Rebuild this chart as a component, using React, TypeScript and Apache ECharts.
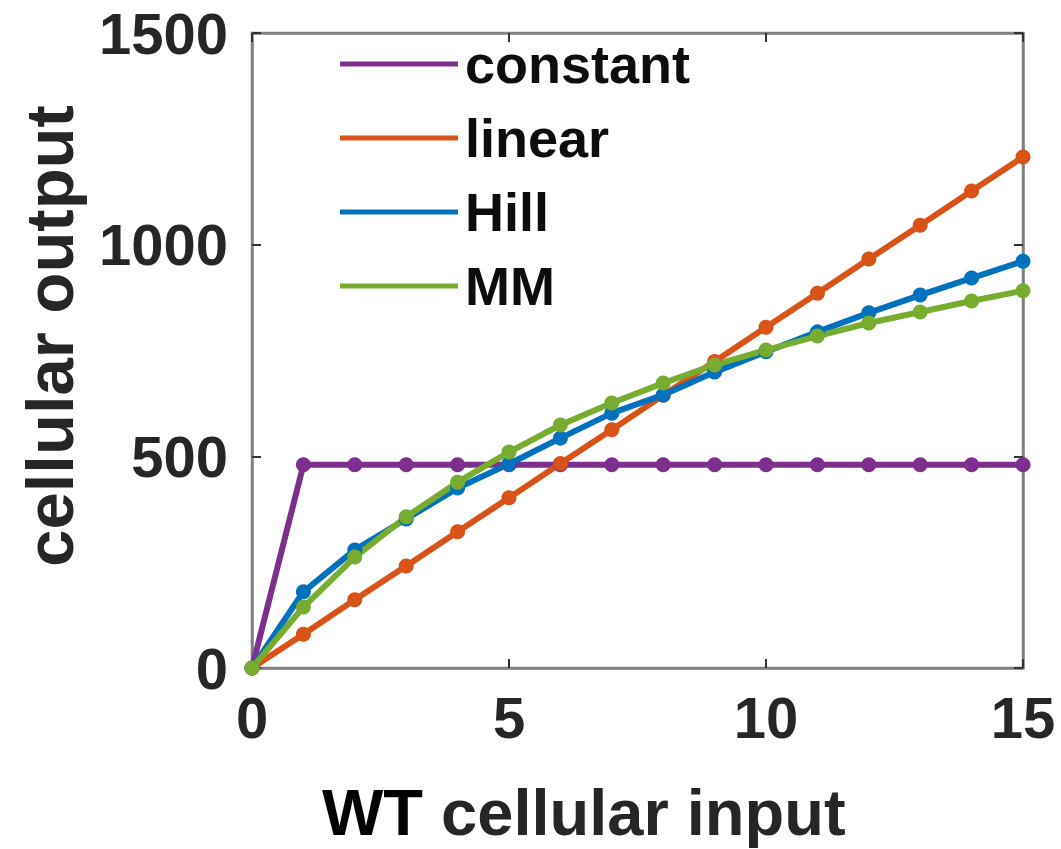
import React, { useEffect, useRef } from "react";
import * as echarts from "echarts";

const xValues = [0, 1, 2, 3, 4, 5, 6, 7, 8, 9, 10, 11, 12, 13, 14, 15];
const constantValues = [0, 480, 480, 480, 480, 480, 480, 480, 480, 480, 480, 480, 480, 480, 480, 480];
const linearValues = [0, 80, 161, 241, 322, 402, 483, 563, 644, 724, 805, 885, 966, 1046, 1127, 1207];
const hillValues = [0, 180, 279, 352, 425, 482, 543, 602, 645, 699, 747, 794, 839, 881, 921, 961];
const mmValues = [0, 144, 262, 357, 439, 510, 574, 626, 673, 716, 751, 784, 815, 841, 867, 891];
const xTicks = { min: 0, max: 15, interval: 5 };
const yTicks = { min: 0, max: 1500, interval: 500 };
const seriesNames = ["constant", "linear", "Hill", "MM"];
const seriesColors = ["#7E2F8E", "#D95319", "#0072BD", "#77AC30"];

const FONT = "'Liberation Sans', Arial, sans-serif";
const AXIS_GRAY = "#808080";
const LABEL = "#262626";

export default function App() {
  const ref = useRef<HTMLDivElement>(null);
  useEffect(() => {
    if (!ref.current) return;
    const chart = echarts.init(ref.current, undefined, { renderer: "svg" });
    const allValues = [constantValues, linearValues, hillValues, mmValues];
    const axisLine = { show: true, onZero: false, lineStyle: { color: AXIS_GRAY, width: 2.5 } };
    const tick = () => ({ show: true, inside: true, length: 9, lineStyle: { color: "#333", width: 2 } });
    chart.setOption({
      animation: false,
      backgroundColor: "#ffffff",
      grid: {
        left: 252,
        right: 38,
        top: 33,
        bottom: 181,
        show: true,
        borderColor: AXIS_GRAY,
        borderWidth: 2.5,
        backgroundColor: "transparent",
      },
      legend: {
        orient: "vertical",
        left: 335,
        top: 32,
        itemWidth: 118,
        itemHeight: 5,
        itemGap: 20,
        icon: "rect",
        data: seriesNames,
        textStyle: {
          fontFamily: FONT,
          fontWeight: "bold",
          fontSize: 54,
          lineHeight: 54,
          color: "#0d0d0d",
          padding: [0, 0, 0, 2],
        },
      },
      xAxis: [
        {
          type: "value",
          position: "bottom",
          min: xTicks.min,
          max: xTicks.max,
          interval: xTicks.interval,
          axisLine,
          axisTick: tick(),
          splitLine: { show: false },
          axisLabel: {
            fontFamily: FONT,
            fontWeight: "bold",
            fontSize: 58,
            color: LABEL,
            margin: 20,
            formatter: (v: number) => String(v),
          },
        },
        {
          type: "value",
          position: "top",
          min: xTicks.min,
          max: xTicks.max,
          interval: xTicks.interval,
          axisLine,
          axisTick: tick(),
          splitLine: { show: false },
          axisLabel: { show: false },
        },
      ],
      yAxis: [
        {
          type: "value",
          position: "left",
          min: yTicks.min,
          max: yTicks.max,
          interval: yTicks.interval,
          axisLine,
          axisTick: tick(),
          splitLine: { show: false },
          axisLabel: {
            fontFamily: FONT,
            fontWeight: "bold",
            fontSize: 58,
            color: LABEL,
            margin: 24,
            formatter: (v: number) => String(v),
          },
        },
        {
          type: "value",
          position: "right",
          min: yTicks.min,
          max: yTicks.max,
          interval: yTicks.interval,
          axisLine,
          axisTick: tick(),
          splitLine: { show: false },
          axisLabel: { show: false },
        },
      ],
      series: [
        ...seriesNames.map((name, i) => ({
          name,
          type: "line",
          xAxisIndex: 0,
          yAxisIndex: 0,
          data: xValues.map((x, j) => [x, allValues[i][j]]),
          symbol: "circle",
          symbolSize: 15,
          showSymbol: true,
          color: seriesColors[i],
          lineStyle: { color: seriesColors[i], width: 6 },
          itemStyle: { color: seriesColors[i] },
        })),
        {
          name: "_frame",
          type: "line",
          xAxisIndex: 1,
          yAxisIndex: 1,
          data: [],
          silent: true,
        },
      ],
      graphic: [
        {
          type: "text",
          left: 322,
          top: 780,
          style: {
            text: "{a|WT} {b|cellular input}",
            rich: {
              a: { fontFamily: FONT, fontWeight: "bold", fontSize: 65, fill: "#000" },
              b: { fontFamily: FONT, fontWeight: "bold", fontSize: 65, fill: LABEL },
            },
            fontFamily: FONT,
            fontWeight: "bold",
            fontSize: 65,
          },
        },
        {
          type: "text",
          x: 49,
          y: 336,
          rotation: Math.PI / 2,
          style: {
            text: "cellular output",
            fontFamily: FONT,
            fontWeight: "bold",
            fontSize: 67,
            fill: LABEL,
            align: "center",
            verticalAlign: "middle",
          },
        },
      ],
    });
    return () => chart.dispose();
  }, []);
  return (
    <div
      ref={ref}
      style={{ position: "absolute", left: 0, top: 0, width: 1061, height: 849 }}
    />
  );
}
